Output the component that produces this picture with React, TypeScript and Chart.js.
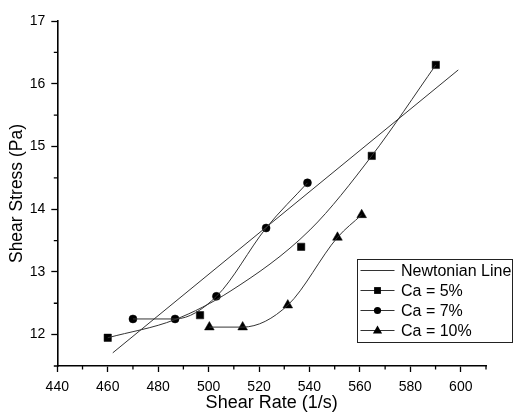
import React, { useEffect, useRef } from 'react';
import { Chart, registerables } from 'chart.js';

Chart.register(...registerables);

// Newtonian reference line (end points)
const newtonianX = [462, 599];
const newtonianY = [11.71, 16.22];

// Measured points
const ca5X = [460, 496.6, 536.7, 564.7, 590.1];
const ca5Y = [11.95, 12.31, 13.4, 14.85, 16.3];
const ca7X = [470, 486.7, 503.1, 522.8, 539.2];
const ca7Y = [12.25, 12.25, 12.61, 13.7, 14.42];
const ca10X = [500.3, 513.5, 531.4, 551.1, 560.7];
const ca10Y = [12.12, 12.12, 12.47, 13.55, 13.91];

// Fitted curve for Ca = 5% (it does not pass through every point)
const ca5FitX = [460, 486.7, 508.5, 540.2, 564.7, 590.1];
const ca5FitY = [11.95, 12.24, 12.69, 13.67, 14.85, 16.3];

// Axis ticks
const xTickValues = [440, 460, 480, 500, 520, 540, 560, 580, 600];
const yTickValues = [12, 13, 14, 15, 16, 17];

const legendLabels = ['Newtonian Line', 'Ca = 5%', 'Ca = 7%', 'Ca = 10%'];
const legendMarkers = ['none', 'rect', 'circle', 'triangle'];

const xMin = 440;
const xMax = 610;
const yMin = 11.5;
const yMax = 17;

const FONT = "'Liberation Sans', Arial, sans-serif";
const LINE_COLOR = '#333333';

const pts = (xs: number[], ys: number[]) => xs.map((x, i) => ({ x, y: ys[i] }));

function drawMarker(ctx: CanvasRenderingContext2D, kind: string, x: number, y: number) {
  ctx.fillStyle = '#000';
  ctx.beginPath();
  if (kind === 'rect') {
    ctx.rect(x - 3.4, y - 3.4, 6.8, 6.8);
  } else if (kind === 'circle') {
    ctx.arc(x, y, 3.6, 0, Math.PI * 2);
  } else if (kind === 'triangle') {
    ctx.moveTo(x, y - 5);
    ctx.lineTo(x + 4.6, y + 3);
    ctx.lineTo(x - 4.6, y + 3);
    ctx.closePath();
  } else {
    return;
  }
  ctx.fill();
}

const minorTicks = {
  id: 'minorTicks',
  afterDraw(chart: any) {
    const { ctx } = chart;
    const xs = chart.scales.x;
    const ys = chart.scales.y;
    ctx.save();
    ctx.strokeStyle = '#000';
    ctx.lineWidth = 1.3;
    ctx.beginPath();
    for (let v = xMin + 10; v <= xMax; v += 20) {
      const px = xs.getPixelForValue(v);
      ctx.moveTo(px, xs.top);
      ctx.lineTo(px, xs.top + 3.5);
    }
    for (let v = yMin; v < yMax; v += 1) {
      const py = ys.getPixelForValue(v);
      ctx.moveTo(ys.right, py);
      ctx.lineTo(ys.right - 3.5, py);
    }
    ctx.stroke();
    ctx.restore();
  },
};

const boxLegend = {
  id: 'boxLegend',
  afterDraw(chart: any) {
    const { ctx, chartArea } = chart;
    const left = chartArea.right - 128.5;
    const top = 259.5;
    const w = 155;
    const h = 83;
    ctx.save();
    ctx.fillStyle = '#fff';
    ctx.fillRect(left, top, w, h);
    ctx.strokeStyle = '#222';
    ctx.lineWidth = 1;
    ctx.strokeRect(left, top, w, h);
    ctx.font = `16px ${FONT}`;
    ctx.textBaseline = 'middle';
    ctx.textAlign = 'left';
    legendLabels.forEach((label, i) => {
      const y = top + 11 + i * 20;
      ctx.strokeStyle = LINE_COLOR;
      ctx.lineWidth = 1;
      ctx.beginPath();
      ctx.moveTo(left + 3, y);
      ctx.lineTo(left + 37, y);
      ctx.stroke();
      drawMarker(ctx, legendMarkers[i], left + 20, y);
      ctx.fillStyle = '#000';
      ctx.fillText(label, left + 43.5, y + 1);
    });
    ctx.restore();
  },
};

export default function App() {
  const ref = useRef<HTMLCanvasElement | null>(null);

  useEffect(() => {
    if (!ref.current) return;
    const lineDs = (data: any[]) => ({
      type: 'line' as const,
      data,
      borderColor: LINE_COLOR,
      borderWidth: 1,
      pointRadius: 0,
      showLine: true,
      cubicInterpolationMode: 'monotone' as const,
      fill: false,
    });
    const markDs = (data: any[], style: string, r: number) => ({
      type: 'scatter' as const,
      data,
      pointStyle: style,
      pointRadius: r,
      pointBackgroundColor: '#000',
      pointBorderColor: '#000',
      pointBorderWidth: 0.5,
      showLine: false,
    });

    const chart = new Chart(ref.current, {
      type: 'scatter',
      data: {
        datasets: [
          { ...lineDs(pts(newtonianX, newtonianY)), cubicInterpolationMode: 'default', tension: 0 },
          lineDs(pts(ca5FitX, ca5FitY)),
          lineDs(pts(ca7X, ca7Y)),
          lineDs(pts(ca10X, ca10Y)),
          markDs(pts(ca5X, ca5Y), 'rect', 5.2),
          markDs(pts(ca7X, ca7Y), 'circle', 4),
          markDs(pts(ca10X, ca10Y), 'triangle', 5.6),
        ] as any,
      },
      options: {
        animation: false,
        responsive: true,
        maintainAspectRatio: false,
        events: [],
        layout: { padding: { left: 0, right: 28, top: 21, bottom: 0 } },
        plugins: {
          legend: { display: false },
          tooltip: { enabled: false },
        },
        scales: {
          x: {
            type: 'linear',
            position: 'bottom',
            min: xMin,
            max: xMax,
            afterBuildTicks: (s: any) => {
              s.ticks = xTickValues.map((value) => ({ value }));
            },
            afterFit: (s: any) => {
              s.height = 53;
            },
            border: { display: true, color: '#000', width: 1.6 },
            grid: {
              display: true,
              drawOnChartArea: false,
              drawTicks: true,
              tickLength: 6,
              tickWidth: 1.3,
              tickColor: '#000',
            },
            ticks: {
              autoSkip: false,
              maxRotation: 0,
              padding: 6.5,
              color: '#000',
              font: { family: FONT, size: 14 },
            },
            title: {
              display: true,
              text: 'Shear Rate (1/s)',
              color: '#000',
              font: { family: FONT, size: 18 },
              padding: { top: 0, bottom: 5.5 },
            },
          },
          y: {
            type: 'linear',
            position: 'left',
            min: yMin,
            max: yMax,
            afterBuildTicks: (s: any) => {
              s.ticks = yTickValues.map((value) => ({ value }));
            },
            afterFit: (s: any) => {
              s.width = 57.3;
            },
            border: { display: true, color: '#000', width: 1.6 },
            grid: {
              display: true,
              drawOnChartArea: false,
              drawTicks: true,
              tickLength: 6,
              tickWidth: 1.3,
              tickColor: '#000',
            },
            ticks: {
              autoSkip: false,
              padding: 6,
              color: '#000',
              font: { family: FONT, size: 14 },
            },
            title: {
              display: true,
              text: 'Shear Stress (Pa)',
              color: '#000',
              font: { family: FONT, size: 17.5 },
              padding: { top: 7, bottom: 0 },
            },
          },
        },
      },
      plugins: [minorTicks, boxLegend],
    });

    return () => chart.destroy();
  }, []);

  return (
    <div style={{ position: 'fixed', left: 0, top: 0, width: 514, height: 419, background: '#fff' }}>
      <canvas ref={ref} />
    </div>
  );
}
